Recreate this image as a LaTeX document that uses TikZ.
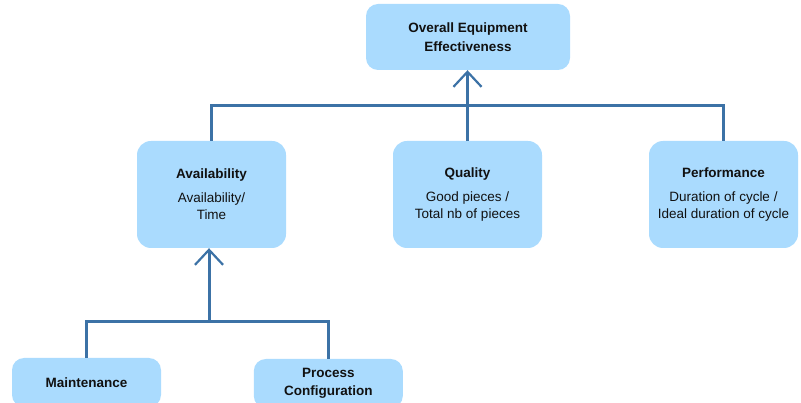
\documentclass[tikz,border=0pt]{standalone}
\usepackage{fontspec}
\setmainfont{Liberation Sans}
\usetikzlibrary{arrows.meta}
\definecolor{boxfill}{RGB}{170,219,254}
\definecolor{linkblue}{RGB}{60,114,166}
\definecolor{ink}{RGB}{17,17,17}
\tikzset{
  card/.style={fill=boxfill, draw=none, rounded corners=14pt, text=ink,
    align=center, inner sep=0pt, minimum width=149pt, minimum height=107pt,
    font=\fontsize{13.5}{17}\selectfont},
  link/.style={draw=linkblue, line width=3pt},
  uparrow/.style={link, -{Straight Barb[length=15pt,width=28pt,line width=2.2pt]}},
}
\begin{document}
\begin{tikzpicture}[x=1pt,y=-1pt]
  \useasboundingbox (0,0) rectangle (801,403);
  \clip (0,0) rectangle (801,403);

  % top level
  \node[card, minimum width=204pt, minimum height=66pt, rounded corners=12pt,
        font=\bfseries\fontsize{13.5}{19}\selectfont] (oee) at (468,37)
        {Overall Equipment\\Effectiveness};

  % three factors
  \node[card] (avail) at (211.5,194.5)
        {\textbf{Availability}\\[7pt]Availability/\\Time};
  \node[card] (qual) at (467.5,194.5)
        {\textbf{Quality}\\[7pt]Good pieces /\\Total nb of pieces};
  \node[card] (perf) at (723.5,194.5)
        {\textbf{Performance}\\[7pt]Duration of cycle /\\Ideal duration of cycle};

  % contributors to availability
  \node[card, minimum height=49pt, rounded corners=12pt,
        font=\bfseries\fontsize{13.5}{18}\selectfont] (maint) at (86.5,382.5)
        {Maintenance};
  \node[card, minimum height=49pt, rounded corners=12pt,
        font=\bfseries\fontsize{13.5}{18}\selectfont] (proc) at (328.3,383.5)
        {Process\\Configuration};

  % connectors
  \coordinate (hub) at (467.5,106);
  \coordinate (hub2) at (209,322);

  \draw[link] (avail.north) -- (avail.north |- hub) -- (perf.north |- hub) -- (perf.north);
  \draw[uparrow] (qual.north) -- (qual.north |- oee.south);

  \draw[link] (maint.north) -- (maint.north |- hub2) -- (proc.north |- hub2) -- (proc.north);
  \draw[uparrow] (hub2) -- (hub2 |- avail.south);
\end{tikzpicture}
\end{document}
